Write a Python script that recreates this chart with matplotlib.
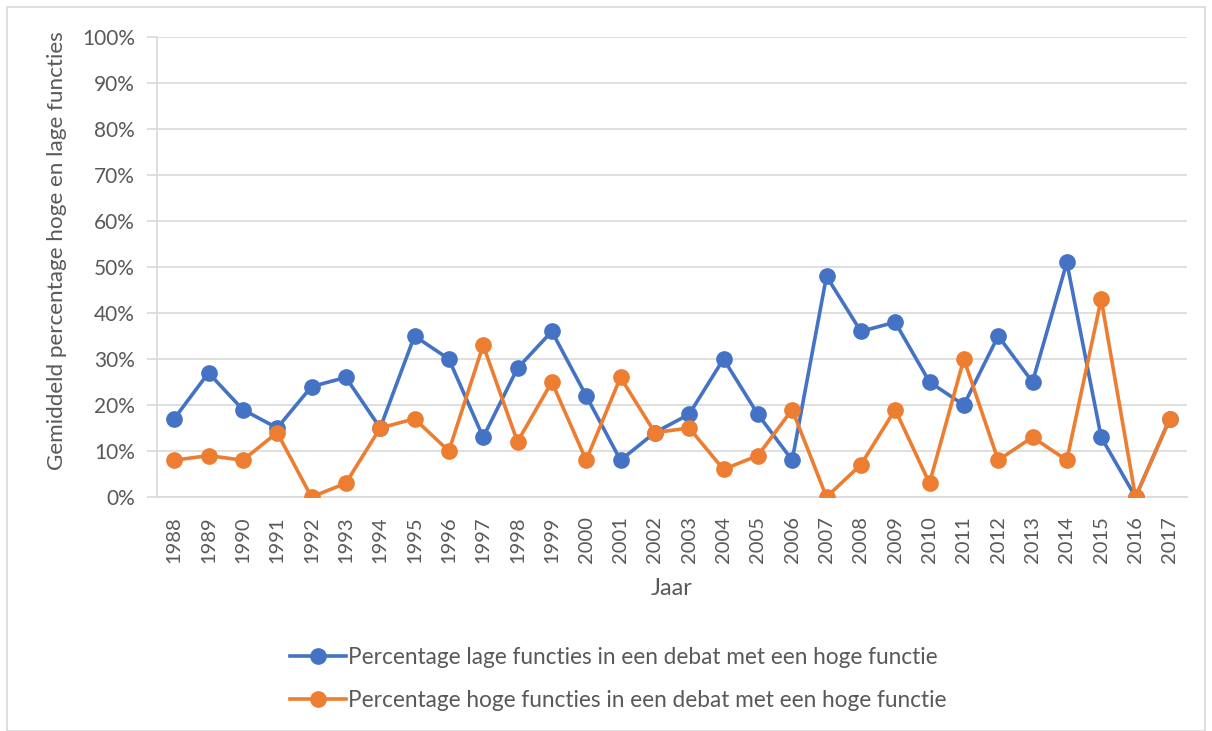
import matplotlib
matplotlib.use('Agg')
from matplotlib import pyplot as plt
from matplotlib.patches import Rectangle
from matplotlib.ticker import PercentFormatter

plt.rcParams['font.family'] = ['Lato', 'DejaVu Sans']

years = [str(y) for y in range(1988, 2018)]
lage = [17, 27, 19, 15, 24, 26, 15, 35, 30, 13, 28, 36, 22, 8, 14, 18, 30, 18, 8, 48,
        36, 38, 25, 20, 35, 25, 51, 13, 0, 17]
hoge = [8, 9, 8, 14, 0, 3, 15, 17, 10, 33, 12, 25, 8, 26, 14, 15, 6, 9, 19, 0,
        7, 19, 3, 30, 8, 13, 8, 43, 0, 17]

label_lage = 'Percentage lage functies in een debat met een hoge functie'
label_hoge = 'Percentage hoge functies in een debat met een hoge functie'

blue = '#4472C4'
orange = '#ED7D31'
txt = '#595959'
grid = '#D9D9D9'

fig = plt.figure(figsize=(12.12, 7.31), dpi=100)
ax = fig.add_axes([157/1212, 1 - 497/731, (1187-157)/1212, (497-37)/731])

x = list(range(len(years)))
ax.plot(x, lage, color=blue, lw=2.6, marker='o', ms=11, label=label_lage, zorder=3)
ax.plot(x, hoge, color=orange, lw=2.6, marker='o', ms=11, label=label_hoge, zorder=4)

ax.set_xlim(-0.5, len(years) - 0.5)
ax.set_ylim(0, 100)
ax.set_yticks(range(0, 101, 10))
ax.yaxis.set_major_formatter(PercentFormatter(decimals=0))
ax.set_xticks(x)
ax.set_xticklabels(years, rotation=90)
ax.yaxis.grid(True, color=grid, lw=1.2)
ax.set_axisbelow(True)

for s in ['top', 'right']:
    ax.spines[s].set_visible(False)
ax.spines['left'].set_color(grid)
ax.spines['bottom'].set_color(grid)
ax.spines['left'].set_linewidth(1.2)
ax.spines['bottom'].set_linewidth(1.2)
ax.tick_params(axis='y', colors=txt, labelsize=15, length=7, width=1.2, color=grid, pad=9)
ax.tick_params(axis='x', colors=txt, labelsize=14.5, length=0, pad=14)

ax.set_xlabel('Jaar', color=txt, fontsize=17)
ax.set_ylabel('Gemiddeld percentage hoge en lage functies', color=txt, fontsize=16.2)
ax.xaxis.set_label_coords(0.5, (497 - 578) / 460)
ax.yaxis.set_label_coords((67 - 157) / 1030, 0.535)

leg = fig.legend(loc='center', bbox_to_anchor=(618/1212, 1 - 679/731), ncol=1, frameon=False,
                 fontsize=16.3, handlelength=2.5, handletextpad=0.05, labelspacing=0.95)
for t in leg.get_texts():
    t.set_color(txt)

fig.patches.append(Rectangle((7/1212, 0), (1205-7)/1212, 1 - 7/731, transform=fig.transFigure,
                             fill=False, edgecolor=grid, lw=1.2))

plt.savefig('out.png', dpi=100)
plt.close()
